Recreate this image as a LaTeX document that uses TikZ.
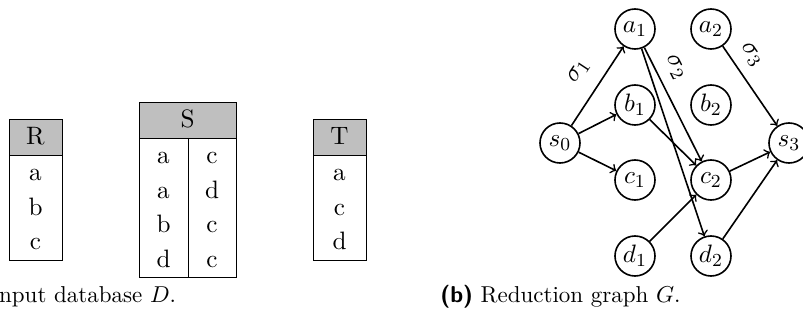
\documentclass[tikz,border=0pt]{standalone}
\begin{document}
\begin{tikzpicture}[x=0.435pt,y=-0.435pt,
  body/.style={font=\fontsize{10.95pt}{13.6pt}\selectfont},
  vertex/.style={body,draw,circle,line width=0.7pt,minimum size=17.4pt,inner sep=0pt},
  edge/.style={->,line width=0.7pt},
  lbl/.style={body,sloped,above=1.2pt},
  cell/.style={body,anchor=base,inner sep=0pt},
  frame/.style={draw,line width=0.4pt},
  head/.style={frame,fill=lightgray},
  caption/.style={anchor=base west,inner sep=0pt}]
\useasboundingbox (0,0) rectangle (803,324);

% relation R
\path[head] (9,119) rectangle (62,155);
\path[frame] (9,155) rectangle (62,260);
\node[cell] (rh) at (35.5,145) {R};
\node[cell] (r1) at (35.5,181) {a};
\node[cell] (r2) at (35.5,215.5) {b};
\node[cell] (r3) at (35.5,250) {c};

% relation S
\path[head] (139,102) rectangle (236,138);
\path[frame] (139,138) rectangle (236,277);
\draw[line width=0.4pt] (188,138) -- (188,277);
\node[cell] (sh) at (187.5,128) {S};
\node[cell] (s1l) at (163.5,164) {a};
\node[cell] (s1r) at (212,164) {c};
\node[cell] (s2l) at (163.5,198.5) {a};
\node[cell] (s2r) at (212,198.5) {d};
\node[cell] (s3l) at (163.5,233) {b};
\node[cell] (s3r) at (212,233) {c};
\node[cell] (s4l) at (163.5,267.5) {d};
\node[cell] (s4r) at (212,267.5) {c};

% relation T
\path[head] (313,119) rectangle (366,155);
\path[frame] (313,155) rectangle (366,260);
\node[cell] (th) at (339.5,145) {T};
\node[cell] (t1) at (339.5,181) {a};
\node[cell] (t2) at (339.5,215.5) {c};
\node[cell] (t3) at (339.5,250) {d};

% reduction graph
\node[vertex] (s0) at (560,143) {$s_0$};
\node[vertex] (a1) at (635,29) {$a_1$};
\node[vertex] (b1) at (635,105) {$b_1$};
\node[vertex] (c1) at (635,180) {$c_1$};
\node[vertex] (d1) at (635,256) {$d_1$};
\node[vertex] (a2) at (711,29) {$a_2$};
\node[vertex] (b2) at (711,105) {$b_2$};
\node[vertex] (c2) at (711,180) {$c_2$};
\node[vertex] (d2) at (711,256) {$d_2$};
\node[vertex] (s3) at (789,143) {$s_3$};

\draw[edge] (s0) -- node[lbl,pos=0.52,above=2.2pt] {$\sigma_1$} (a1);
\draw[edge] (s0) -- (b1);
\draw[edge] (s0) -- (c1);
\draw[edge] (a1) -- node[lbl,pos=0.25] {$\sigma_2$} (c2);
\draw[edge] (a1) -- (d2);
\draw[edge] (b1) -- (c2);
\draw[edge] (d1) -- (c2);
\draw[edge] (c2) -- (s3);
\draw[edge] (d2) -- (s3);
\draw[edge] (a2) -- node[lbl,pos=0.24] {$\sigma_3$} (s3);

% captions
\node[caption] (capa) at (-49,303) {\textsf{\textbf{(a)}} Input database $D$.};
\node[caption] (capb) at (440,303) {\textsf{\textbf{(b)}} Reduction graph $G$.};
\end{tikzpicture}
\end{document}
